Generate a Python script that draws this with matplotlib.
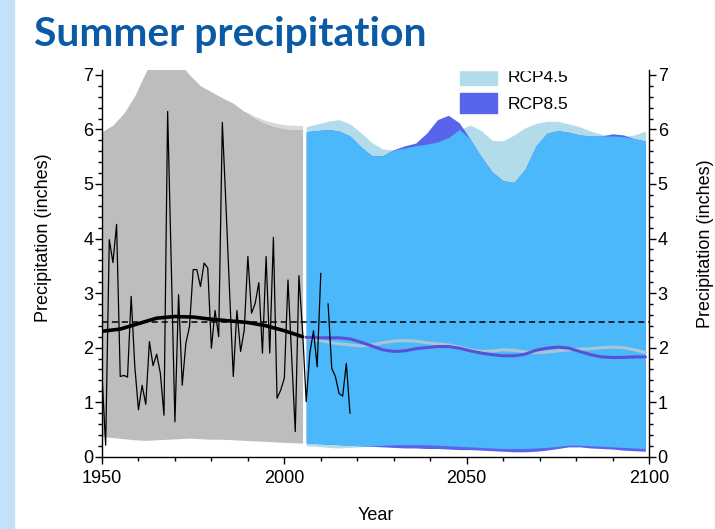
import numpy as np
import matplotlib.pyplot as plt
from matplotlib.patches import Patch, Rectangle

plt.rcParams['font.family'] = ['Liberation Sans', 'DejaVu Sans']

# observed summer totals (inches), 2011 missing
obs_years = list(range(1950, 2019))
obs_vals = [1.5, 0.21, 3.98, 3.56, 4.26, 1.47, 1.49, 1.46, 2.94, 1.65,
            0.86, 1.31, 0.96, 2.11, 1.67, 1.88, 1.53, 0.76, 6.33, 3.5,
            0.64, 2.97, 1.31, 2.08, 2.39, 3.43, 3.43, 3.12, 3.55, 3.46,
            1.99, 2.68, 2.20, 6.13, 4.6, 3.0, 1.47, 2.68, 1.93, 2.32,
            3.67, 2.63, 2.81, 3.19, 1.90, 3.67, 1.90, 4.02, 1.07, 1.22,
            1.44, 3.24, 1.85, 0.46, 3.32, 2.3, 1.01, 1.90, 2.31, 1.65,
            3.36, np.nan, 2.80, 1.62, 1.47, 1.16, 1.11, 1.71, 0.80]

# smoothed observed / model historical
smooth_years = [1950, 1955, 1960, 1965, 1970, 1975, 1980, 1985, 1990, 1995, 2000, 2005]
smooth_vals = [2.30, 2.34, 2.44, 2.54, 2.57, 2.56, 2.52, 2.49, 2.46, 2.40, 2.31, 2.20]
baseline = 2.47

# historical model range
hist_years = [1950, 1953, 1956, 1959, 1962, 1965, 1968, 1971, 1974, 1977,
              1980, 1983, 1986, 1989, 1992, 1995, 1998, 2001, 2005]
hist_up = [5.96, 6.08, 6.3, 6.62, 7.05, 7.4, 7.5, 7.25, 7.0, 6.8,
           6.69, 6.58, 6.48, 6.33, 6.2, 6.1, 6.04, 6.0, 6.0]
hist_lo = [0.37, 0.35, 0.33, 0.31, 0.30, 0.31, 0.32, 0.33, 0.34, 0.33,
           0.32, 0.32, 0.31, 0.30, 0.29, 0.28, 0.27, 0.26, 0.25]
edge_years = [1989, 1992, 1995, 1998, 2001, 2005]
edge_vals = [6.34, 6.24, 6.16, 6.11, 6.08, 6.07]

# projections
proj_years = list(range(2006, 2100, 3))
rcp45_up = [6.05, 6.1, 6.15, 6.18, 6.1, 5.94, 5.76, 5.64, 5.62, 5.66, 5.7,
            5.73, 5.77, 5.85, 6.0, 6.08, 5.98, 5.8, 5.79, 5.9, 6.03, 6.11,
            6.15, 6.15, 6.1, 6.05, 5.97, 5.91, 5.88, 5.87, 5.9, 5.97]
rcp45_lo = [0.2, 0.19, 0.17, 0.16, 0.17, 0.18, 0.2, 0.21, 0.22, 0.22, 0.22,
            0.22, 0.21, 0.2, 0.19, 0.18, 0.17, 0.16, 0.15, 0.15, 0.15, 0.16,
            0.17, 0.19, 0.21, 0.21, 0.2, 0.19, 0.18, 0.17, 0.16, 0.15]
rcp85_up = [5.96, 5.98, 6.0, 5.97, 5.88, 5.68, 5.52, 5.52, 5.63, 5.7, 5.75,
            5.93, 6.18, 6.26, 6.12, 5.82, 5.5, 5.22, 5.06, 5.03, 5.27, 5.7,
            5.93, 5.98, 5.95, 5.9, 5.88, 5.88, 5.92, 5.9, 5.83, 5.79]
rcp85_lo = [0.25, 0.24, 0.23, 0.22, 0.21, 0.2, 0.19, 0.18, 0.17, 0.16, 0.16,
            0.15, 0.15, 0.14, 0.13, 0.13, 0.12, 0.11, 0.1, 0.09, 0.09, 0.1,
            0.12, 0.15, 0.18, 0.18, 0.16, 0.15, 0.14, 0.12, 0.11, 0.1]
rcp45_med = [2.19, 2.14, 2.1, 2.07, 2.05, 2.03, 2.05, 2.09, 2.12, 2.13, 2.12,
             2.09, 2.07, 2.05, 2.01, 1.96, 1.93, 1.94, 1.96, 1.95, 1.92, 1.91,
             1.92, 1.94, 1.96, 1.97, 1.98, 2.0, 2.01, 2.0, 1.96, 1.91]
rcp85_med = [2.19, 2.18, 2.18, 2.18, 2.16, 2.1, 2.03, 1.96, 1.93, 1.94, 1.98,
             2.0, 2.02, 2.02, 1.99, 1.94, 1.9, 1.87, 1.85, 1.85, 1.88, 1.95,
             1.99, 2.01, 1.99, 1.93, 1.87, 1.83, 1.82, 1.82, 1.83, 1.83]

c_hist = '#bdbdbd'
c_45 = '#b3dcea'
c_85 = '#5865ea'
c_both = '#4ab8fb'

fig = plt.figure(figsize=(7.15, 5.29), dpi=100)
W, H = 715, 529
ax = fig.add_axes([102 / W, 1 - 456.7 / H, 547 / W, (456.7 - 70) / H])

# left slide stripe
fig.add_artist(Rectangle((0, 0), 14 / W, 1, transform=fig.transFigure,
                         color='#c5e0f9', zorder=-1))

ax.fill_between(edge_years, 5.5, edge_vals, color='#d9d9d9', lw=0)
ax.fill_between(hist_years, hist_lo, hist_up, color=c_hist, lw=0)

up45, lo45 = np.array(rcp45_up), np.array(rcp45_lo)
up85, lo85 = np.array(rcp85_up), np.array(rcp85_lo)
ax.fill_between(proj_years, lo45, up45, color=c_45, lw=0)
ax.fill_between(proj_years, lo85, up85, color=c_85, lw=0)
ax.fill_between(proj_years, np.maximum(lo45, lo85), np.minimum(up45, up85),
                color=c_both, lw=0)

ax.axhline(baseline, color='black', ls=(0, (4, 2.5)), lw=1.1)
ax.plot(proj_years, rcp45_med, color='#a9c6d6', lw=2.2, solid_capstyle='round')
ax.plot(proj_years, rcp85_med, color='#5a50d6', lw=2.2, solid_capstyle='round')
ax.plot(smooth_years, smooth_vals, color='black', lw=2.6, solid_capstyle='round')
ax.plot(obs_years, obs_vals, color='black', lw=0.9)

ax.set_xlim(1950, 2100)
ax.set_ylim(0, 7.09)
ax.set_xticks([1950, 2000, 2050, 2100])
ax.set_xticks(range(1950, 2101, 10), minor=True)
ax.set_yticks(range(0, 8))
ax.set_yticks(np.arange(0, 7.01, 0.2), minor=True)
ax.spines['top'].set_visible(False)
for s in ['left', 'right', 'bottom']:
    ax.spines[s].set_linewidth(1.0)
ax.tick_params(which='both', direction='out', right=True, labelright=True,
               labelsize=13, width=1.0)
ax.tick_params(which='major', length=4.8)
ax.tick_params(which='minor', length=3)
ax.tick_params(axis='y', pad=1.5)
ax.tick_params(axis='x', pad=4.5)

fig.text(44 / W, 1 - 238 / H, 'Precipitation (inches)', rotation=90,
         ha='center', va='center', fontsize=13)
fig.text(706 / W, 1 - 244 / H, 'Precipitation (inches)', rotation=90,
         ha='center', va='center', fontsize=13)
fig.text(376 / W, 1 - 515 / H, 'Year', ha='center', va='center', fontsize=13)

handles = [Patch(color=c_45), Patch(color=c_85)]
ax.legend(handles, ['RCP4.5', 'RCP8.5'], loc='upper left',
          bbox_to_anchor=(460 / W, 1 - 66 / H), bbox_transform=fig.transFigure,
          frameon=False, fontsize=12.5, handlelength=2.13, handleheight=1.35,
          labelspacing=0.45, handletextpad=0.6, borderpad=0, borderaxespad=0)

# chart was cut off at the top
fig.add_artist(Rectangle((430 / W, 1 - 70 / H), 200 / W, 16 / H,
                         transform=fig.transFigure, color='white', zorder=5))

fig.text(34 / W, 1 - 46 / H, 'Summer precipitation', fontsize=29.4,
         fontweight='bold', color='#0a5aa5', family='Lato',
         ha='left', va='baseline', zorder=6)

fig.savefig('out.png', dpi=100)
